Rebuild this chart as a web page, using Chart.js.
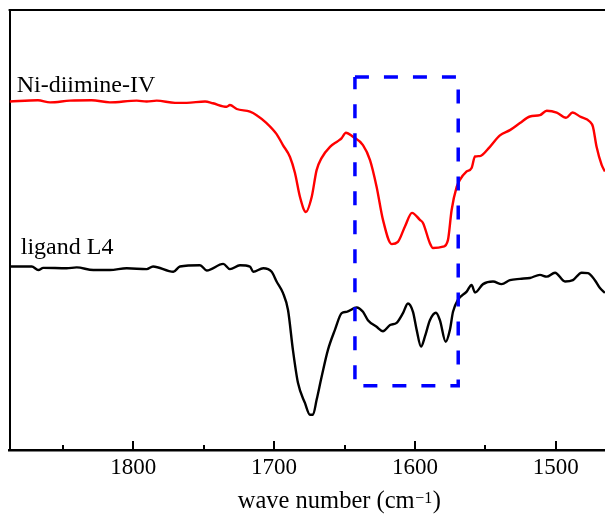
<!DOCTYPE html>
<html><head><meta charset="utf-8">
<script src="https://cdn.jsdelivr.net/npm/chart.js@4/dist/chart.umd.min.js"></script>
<style>html,body{margin:0;padding:0;overflow:hidden;background:#fff}canvas{display:block}</style>
</head><body>
<canvas id="c" width="669" height="514"></canvas>
<script>
// ---- data (wavenumber in cm^-1, relative transmittance in a.u.) ----
const niWavenumbers = [1887.7,1867.6,1859.0,1844.9,1829.5,1816.5,1797.5,1790.4,1783.3,1770.3,1762.0,1749.0,1743.4,1733.6,1731.3,1726.5,1717.1,1712.4,1705.3,1698.2,1693.7,1688.7,1685.2,1681.6,1677.4,1673.3,1669.8,1666.2,1660.3,1654.7,1652.0,1649.0,1644.0,1636.9,1631.9,1627.2,1622.7,1616.5,1612.1,1607.1,1602.1,1596.5,1594.3,1589.4,1587.2,1580.1,1576.6,1574.0,1570.4,1568.1,1563.3,1559.8,1557.4,1553.9,1546.8,1539.7,1532.6,1525.5,1518.4,1511.3,1506.5,1499.4,1492.8,1488.1,1482.9,1475.8,1473.7,1471.1,1467.5,1465.2];
const niValues = [79.2,79.5,79.0,79.4,79.5,79.0,79.4,79.2,79.4,78.9,78.9,79.2,78.8,78.0,78.4,77.5,76.9,76.1,74.3,71.8,69.3,66.6,63.0,57.5,54.1,57.5,63.6,66.4,68.9,70.2,70.9,72.1,71.2,69.3,65.9,59.8,52.3,46.8,47.3,50.8,53.9,52.3,51.6,47.0,45.9,46.2,47.7,54.5,59.8,61.4,63.3,64.1,66.7,66.8,68.9,71.5,72.7,74.3,75.8,76.1,77.1,76.7,75.5,76.7,75.8,74.6,73.5,68.9,64.8,63.3];

const l4Wavenumbers = [1887.7,1872.0,1867.3,1863.8,1847.2,1840.1,1828.3,1816.5,1804.6,1790.4,1785.9,1771.5,1766.8,1752.6,1747.8,1736.1,1731.3,1724.2,1717.1,1714.8,1707.7,1701.7,1698.2,1693.7,1690.1,1686.6,1683.0,1678.1,1674.5,1672.4,1669.8,1666.2,1661.8,1656.8,1652.0,1648.5,1641.4,1636.9,1633.4,1627.2,1622.7,1617.7,1613.0,1608.5,1605.0,1601.4,1598.8,1595.7,1592.9,1589.4,1585.1,1582.3,1578.2,1575.2,1573.0,1569.5,1563.3,1559.8,1557.4,1551.7,1544.6,1538.5,1532.6,1525.5,1518.4,1511.3,1506.5,1500.6,1493.5,1487.9,1481.7,1477.2,1472.3,1468.7,1465.2];
const l4Values = [41.7,41.7,40.9,41.4,41.3,41.5,40.9,40.9,41.3,41.1,41.7,40.5,41.7,42.0,40.8,42.3,41.1,42.0,41.7,40.5,41.3,40.5,38.3,35.7,31.8,22.7,15.2,10.7,8.0,8.0,11.4,16.7,22.7,27.3,31.1,31.4,32.4,31.4,29.5,28.0,27.0,28.4,28.9,31.1,33.3,31.4,27.3,23.5,25.8,29.5,31.2,29.5,24.6,27.3,31.4,34.1,36.0,37.5,35.8,37.7,38.3,37.7,38.6,38.9,39.1,39.8,39.4,40.3,38.3,38.6,40.3,40.2,38.6,36.8,35.7];

// highlighted region (dashed box)
const boxWavenumbers = [1642.6,1569.3,1569.3,1642.6,1642.6];
const boxValues = [84.8,84.8,14.6,14.6,84.8];

const majorTicks = [1800,1700,1600,1500];
const minorTicks = [1850,1750,1650,1550];
const seriesNames = ['Ni-diimine-IV','ligand L4'];
const axisTitleParts = ['wave number (cm', '\u22121', ')'];

const SERIF = "'Liberation Serif','Times New Roman',serif";
const toPoints = (xs, ys) => xs.map((x, i) => ({x: x, y: ys[i]}));

const decor = {
  id: 'decor',
  afterDraw(chart, args, opts) {
    const {ctx, chartArea: a, scales: {x, y}} = chart;
    ctx.save();
    ctx.strokeStyle = '#000';
    ctx.lineWidth = 2;
    ctx.beginPath(); ctx.moveTo(a.left - 1, a.top); ctx.lineTo(a.right, a.top); ctx.stroke();
    const drawTicks = (vals, len) => vals.forEach(v => {
      const px = Math.round(x.getPixelForValue(v));
      ctx.beginPath(); ctx.moveTo(px, a.bottom); ctx.lineTo(px, a.bottom - len); ctx.stroke();
    });
    drawTicks(majorTicks, opts.majorLen);
    drawTicks(minorTicks, opts.minorLen);
    ctx.fillStyle = '#000';
    ctx.textAlign = 'left';
    ctx.textBaseline = 'alphabetic';
    ctx.font = `${opts.labelSize}px ${SERIF}`;
    opts.labels.forEach(l => ctx.fillText(l.text, x.getPixelForValue(l.x), y.getPixelForValue(l.y)));
    const mainFont = `${opts.titleSize}px ${SERIF}`;
    const supFont = `${opts.supSize}px ${SERIF}`;
    ctx.font = mainFont; const w0 = ctx.measureText(axisTitleParts[0]).width; const w2 = ctx.measureText(axisTitleParts[2]).width;
    ctx.font = supFont; const w1 = ctx.measureText(axisTitleParts[1]).width;
    const total = w0 + w1 + w2 + 1;
    let cx = (a.left + a.right) / 2 - total / 2;
    const base = a.bottom + opts.titleOffset;
    ctx.font = mainFont; ctx.fillText(axisTitleParts[0], cx, base); cx += w0 + 0.5;
    ctx.font = supFont; ctx.fillText(axisTitleParts[1], cx, base - opts.supRaise); cx += w1 + 0.5;
    ctx.font = mainFont; ctx.fillText(axisTitleParts[2], cx, base);
    ctx.restore();
  }
};

new Chart(document.getElementById('c'), {
  type: 'scatter',
  data: {
    datasets: [
      {label: 'box', data: toPoints(boxWavenumbers, boxValues), showLine: true, borderColor: '#0000ff', borderWidth: 3.5, borderDash: [14, 15], pointRadius: 0, tension: 0, fill: false},
      {label: seriesNames[0], data: toPoints(niWavenumbers, niValues), showLine: true, borderColor: '#ff0000', borderWidth: 2.4, pointRadius: 0, cubicInterpolationMode: 'monotone', fill: false},
      {label: seriesNames[1], data: toPoints(l4Wavenumbers, l4Values), showLine: true, borderColor: '#000000', borderWidth: 2.4, pointRadius: 0, cubicInterpolationMode: 'monotone', fill: false}
    ]
  },
  options: {
    responsive: false,
    animation: false,
    devicePixelRatio: 1,
    layout: {padding: {left: 9.6, top: 10, right: 0, bottom: 0}},
    plugins: {
      legend: {display: false},
      tooltip: {enabled: false},
      decor: {
        majorLen: 9, minorLen: 5,
        labelSize: 24, titleSize: 24.5, supSize: 16, supRaise: 5, titleOffset: 58,
        labels: [
          {text: seriesNames[0], x: 1882.7, y: 81.4},
          {text: seriesNames[1], x: 1879.8, y: 44.5}
        ]
      }
    },
    scales: {
      x: {
        type: 'linear', position: 'bottom', reverse: true,
        min: 1419.7, max: 1887.7,
        grid: {display: false, drawTicks: false},
        border: {display: true, color: '#000', width: 2.5},
        afterBuildTicks: s => { s.ticks = majorTicks.map(v => ({value: v})); },
        afterFit: s => { s.height = 64; },
        ticks: {color: '#000', font: {family: SERIF, size: 23}, padding: 4, autoSkip: false, maxRotation: 0, callback: v => String(v)}
      },
      y: {
        type: 'linear', min: 0, max: 100,
        grid: {display: false, drawTicks: false},
        border: {display: true, color: '#000', width: 2},
        ticks: {display: false},
        afterFit: s => { s.width = 0; }
      }
    }
  },
  plugins: [decor]
});
</script>
</body></html>
